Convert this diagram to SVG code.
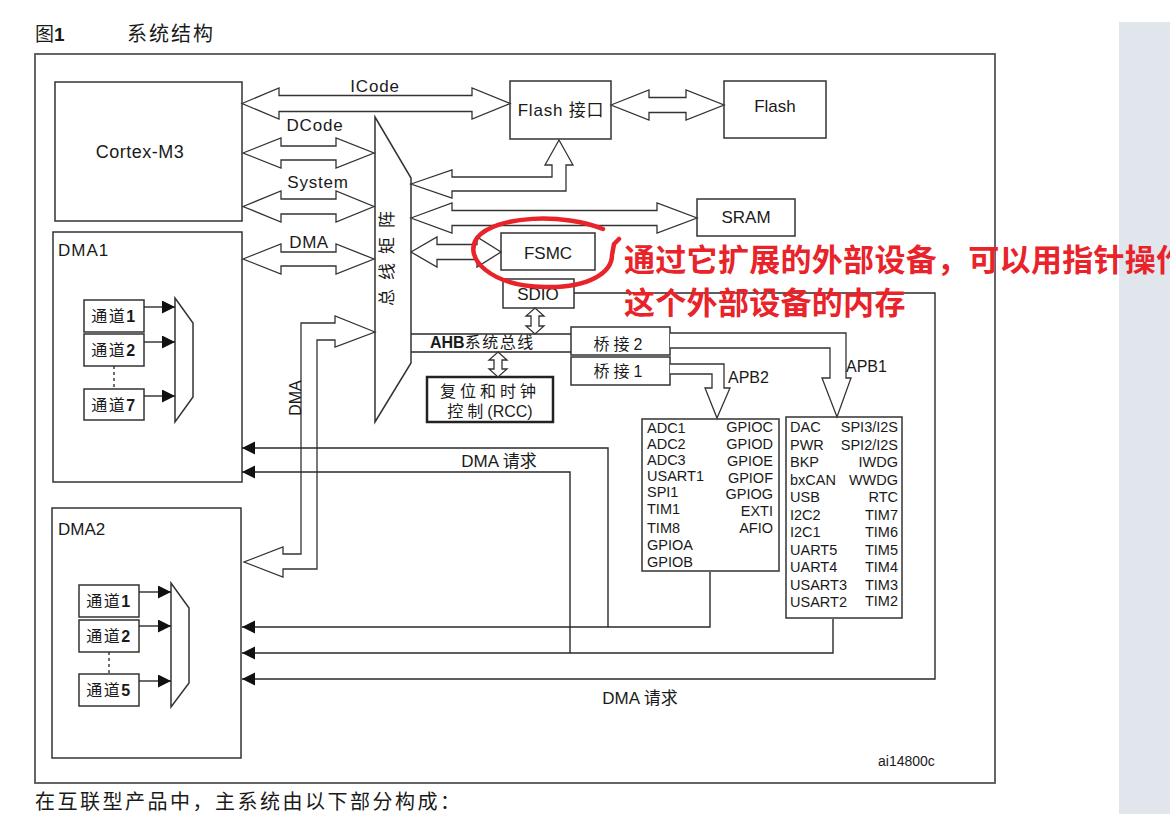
<svg xmlns="http://www.w3.org/2000/svg" width="1170" height="830" viewBox="0 0 1170 830">
<style>
.t{font-family:"Liberation Sans","Noto Sans CJK SC",sans-serif;fill:#1a1a1a}
.box{fill:#fff;stroke:#333;stroke-width:1.5}
.ln{fill:none;stroke:#2a2a2a;stroke-width:1.4}
.ha{fill:#fff;stroke:#333;stroke-width:1.3;stroke-linejoin:miter}
.s17{font-size:17px}
.s16{font-size:16px}
.s14{font-size:14.5px}
.red{font-family:"Noto Sans CJK SC",sans-serif;font-weight:700;font-size:31px;fill:#e8232a;letter-spacing:0.3px}
</style>
<defs>
<marker id="ah" markerUnits="userSpaceOnUse" markerWidth="14" markerHeight="14" refX="13" refY="6.5" orient="auto">
<path d="M0,0 L13,6.5 L0,13 Z" fill="#111"/>
</marker>
</defs>
<rect x="0" y="0" width="1170" height="830" fill="#fff"/>
<rect x="1119" y="22" width="51" height="792" fill="#e1e5ec"/>

<g id="title">
<text class="t" x="35" y="41" font-size="19">图<tspan font-weight="bold">1</tspan></text>
<text class="t" x="127" y="41" font-size="20" letter-spacing="2">系统结构</text>
</g>
<rect id="frame" x="35" y="54" width="960" height="729" fill="none" stroke="#555" stroke-width="1.8"/>

<g id="cortex">
<rect class="box" x="55" y="82" width="187" height="139"/>
<text class="t" x="140" y="158" font-size="18" text-anchor="middle" letter-spacing="0.5">Cortex-M3</text>
</g>

<g id="dma1">
<rect class="box" x="53" y="232" width="189" height="250"/>
<text class="t s17" x="58" y="256" letter-spacing="1">DMA1</text>
<rect class="box" x="84" y="300" width="60" height="32"/>
<text class="t s16" x="114" y="322" text-anchor="middle" letter-spacing="1.5">通道<tspan font-weight="bold">1</tspan></text>
<rect class="box" x="84" y="334" width="60" height="32"/>
<text class="t s16" x="114" y="356" text-anchor="middle" letter-spacing="1.5">通道<tspan font-weight="bold">2</tspan></text>
<rect class="box" x="84" y="389" width="60" height="31"/>
<text class="t s16" x="114" y="411" text-anchor="middle" letter-spacing="1.5">通道<tspan font-weight="bold">7</tspan></text>
<polygon class="box" points="175,298 193,323 193,397 175,422"/>
</g>

<g id="dma2">
<rect class="box" x="52" y="508" width="189" height="250"/>
<text class="t s17" x="58" y="535">DMA2</text>
<rect class="box" x="79" y="585" width="60" height="32"/>
<text class="t s16" x="109" y="607" text-anchor="middle" letter-spacing="1.5">通道<tspan font-weight="bold">1</tspan></text>
<rect class="box" x="79" y="620" width="60" height="32"/>
<text class="t s16" x="109" y="642" text-anchor="middle" letter-spacing="1.5">通道<tspan font-weight="bold">2</tspan></text>
<rect class="box" x="79" y="674" width="60" height="32"/>
<text class="t s16" x="109" y="696" text-anchor="middle" letter-spacing="1.5">通道<tspan font-weight="bold">5</tspan></text>
<polygon class="box" points="171,583 189,608 189,683 171,707"/>
</g>

<g id="busmatrix">
<polygon class="box" points="375,117 411,178 411,363 375,422"/>
<text class="t" font-size="17" transform="translate(393,254) rotate(-90)" text-anchor="middle" letter-spacing="9">总线矩阵</text>
</g>

<g id="flashif">
<rect class="box" x="510" y="81" width="101" height="58"/>
<text class="t s17" x="561" y="116" text-anchor="middle" letter-spacing="0.8">Flash 接口</text>
</g>
<g id="flash">
<rect class="box" x="724" y="81" width="102" height="57"/>
<text class="t s17" x="775" y="112" text-anchor="middle">Flash</text>
</g>
<g id="sram">
<rect class="box" x="697" y="199" width="98" height="37"/>
<text class="t s17" x="746" y="223" text-anchor="middle">SRAM</text>
</g>
<g id="fsmc">
<rect class="box" x="501" y="233" width="94" height="37"/>
<text class="t s17" x="548" y="259" text-anchor="middle">FSMC</text>
</g>
<g id="sdio">
<rect class="box" x="503" y="279" width="71" height="29"/>
<text class="t s17" x="538" y="300" text-anchor="middle">SDIO</text>
</g>
<g id="rcc">
<rect x="427" y="377" width="126" height="45" fill="#fff" stroke="#222" stroke-width="2.5"/>
<text class="t s16" x="490" y="397" text-anchor="middle" letter-spacing="4">复位和时钟</text>
<text class="t s16" x="490" y="417" text-anchor="middle"><tspan letter-spacing="4">控制</tspan>(RCC)</text>
</g>
<g id="bridge2">
<rect class="box" x="571" y="327" width="99" height="28"/>
<text class="t s16" x="620" y="350" text-anchor="middle" letter-spacing="4">桥接2</text>
</g>
<g id="bridge1">
<rect class="box" x="571" y="357" width="99" height="28"/>
<text class="t s16" x="620" y="377" text-anchor="middle" letter-spacing="4">桥接1</text>
</g>

<g id="apb2">
<rect class="box" x="642" y="419" width="137" height="152"/>
<g class="t s14">
<text x="647" y="433">ADC1</text><text x="647" y="449">ADC2</text><text x="647" y="465">ADC3</text>
<text x="647" y="481">USART1</text><text x="647" y="497">SPI1</text><text x="647" y="514">TIM1</text>
<text x="647" y="533">TIM8</text><text x="647" y="550">GPIOA</text><text x="647" y="567">GPIOB</text>
</g>
<g class="t s14" text-anchor="end">
<text x="773" y="432">GPIOC</text><text x="773" y="449">GPIOD</text><text x="773" y="466">GPIOE</text>
<text x="773" y="483">GPIOF</text><text x="773" y="499">GPIOG</text><text x="773" y="516">EXTI</text>
<text x="773" y="533">AFIO</text>
</g>
</g>

<g id="apb1">
<rect class="box" x="786" y="417" width="116" height="201"/>
<g class="t s14">
<text x="790" y="432">DAC</text><text x="790" y="449.5">PWR</text><text x="790" y="467">BKP</text>
<text x="790" y="484.5">bxCAN</text><text x="790" y="502">USB</text><text x="790" y="519.5">I2C2</text>
<text x="790" y="537">I2C1</text><text x="790" y="554.5">UART5</text><text x="790" y="572">UART4</text>
<text x="790" y="589.5">USART3</text><text x="790" y="607">USART2</text>
</g>
<g class="t s14" text-anchor="end">
<text x="898" y="432">SPI3/I2S</text><text x="898" y="449.5">SPI2/I2S</text><text x="898" y="467">IWDG</text>
<text x="898" y="484.5">WWDG</text><text x="898" y="502">RTC</text><text x="898" y="519.5">TIM7</text>
<text x="898" y="537">TIM6</text><text x="898" y="554.5">TIM5</text><text x="898" y="572">TIM4</text>
<text x="898" y="589.5">TIM3</text><text x="898" y="606">TIM2</text>
</g>
</g>

<g id="connectors">
<!-- hollow bus arrows -->
<path class="ha" d="M242,103.5 L279,88 L279,95.5 L472,95.5 L472,88 L510,103.5 L472,119 L472,111.5 L279,111.5 L279,119 Z"/>
<path class="ha" d="M243,153 L281,138 L281,146 L336,146 L336,138 L374,153 L336,168 L336,160 L281,160 L281,168 Z"/>
<path class="ha" d="M243,206.5 L281,191 L281,199 L336,199 L336,191 L374,206.5 L336,222 L336,214 L281,214 L281,222 Z"/>
<path class="ha" d="M243,259 L281,244 L281,252 L336,252 L336,244 L374,259 L336,274 L336,266 L281,266 L281,274 Z"/>
<path class="ha" d="M611,105 L649,90 L649,97.5 L686,97.5 L686,90 L724,105 L686,120 L686,112.5 L649,112.5 L649,120 Z"/>
<path class="ha" d="M411,184 L452,170 L452,177 L552,177 L552,165 L545,165 L559,140 L573,165 L566,165 L566,191 L452,191 L452,198 Z"/>
<path class="ha" d="M411,218 L452,203 L452,210.5 L657,210.5 L657,203 L697,218 L657,233 L657,225.5 L452,225.5 L452,233 Z"/>
<path class="ha" d="M411,252 L437,237 L437,244.5 L477,244.5 L477,237 L501,252 L477,267 L477,259.5 L437,259.5 L437,267 Z"/>
<path class="ha" d="M375,332 L335,316 L335,323 L301,323 L301,554 L283,554 L283,547 L244,562 L283,577 L283,569 L317,569 L317,340 L335,340 L335,347 Z"/>
<!-- AHB bus -->
<path class="ln" d="M411,334 H571 M411,352 H571"/>
<path class="ha" d="M535,308 L544,316 L539,316 L539,326 L544,326 L535,334 L526,326 L531,326 L531,316 L526,316 Z"/>
<path class="ha" d="M498,352 L507,360 L502,360 L502,369 L507,369 L498,377 L489,369 L494,369 L494,360 L489,360 Z"/>
<!-- APB arrows -->
<path class="ha" d="M670,364 L724,364 L724,388 L730,388 L717,418 L705,388 L712,388 L712,374 L670,374"/>
<path class="ha" d="M670,333 L846,333 L846,378 L851,378 L837,417 L822,378 L830,378 L830,348 L670,348"/>
<!-- DMA request lines -->
<path class="ln" d="M710,572 V627 H242" marker-end="url(#ah)"/>
<path class="ln" d="M608,627 V448 H242" marker-end="url(#ah)"/>
<path class="ln" d="M833,619 V653 H242" marker-end="url(#ah)"/>
<path class="ln" d="M570,653 V472 H242" marker-end="url(#ah)"/>
<path class="ln" d="M574,293 H935 V679 H242" marker-end="url(#ah)"/>
<!-- channel arrows -->
<path class="ln" d="M144,307 H175" marker-end="url(#ah)"/>
<path class="ln" d="M144,342 H175" marker-end="url(#ah)"/>
<path class="ln" d="M144,396 H175" marker-end="url(#ah)"/>
<path class="ln" d="M139,592 H171" marker-end="url(#ah)"/>
<path class="ln" d="M139,626 H171" marker-end="url(#ah)"/>
<path class="ln" d="M139,681 H171" marker-end="url(#ah)"/>
<path d="M114,366 V389 M109,652 V674" stroke="#333" stroke-width="1.4" stroke-dasharray="3,3"/>
<!-- labels -->
<text class="t s17" x="375" y="92" text-anchor="middle" letter-spacing="0.8">ICode</text>
<text class="t s17" x="315" y="131" text-anchor="middle" letter-spacing="0.8">DCode</text>
<text class="t s17" x="318" y="188" text-anchor="middle" letter-spacing="0.8">System</text>
<text class="t s17" x="309" y="248" text-anchor="middle" letter-spacing="0.5">DMA</text>
<text class="t s16" transform="translate(301,398) rotate(-90)" text-anchor="middle">DMA</text>
<text class="t s16" x="430" y="348" letter-spacing="1.5"><tspan font-weight="bold" letter-spacing="0">AHB</tspan>系统总线</text>
<text class="t s16" x="728" y="383">APB2</text>
<text class="t s16" x="846" y="372">APB1</text>
<text class="t s17" x="499" y="467" text-anchor="middle">DMA 请求</text>
<text class="t s17" x="640" y="704" text-anchor="middle">DMA 请求</text>
</g>

<text class="t" x="878" y="766" font-size="14">ai14800c</text>
<text class="t" x="35" y="809" font-size="20" letter-spacing="2.5">在互联型产品中，主系统由以下部分构成：</text>

<g id="annotation">
<path d="M603,229 C565,213 495,215 477,238 C463,258 490,286 545,287 C590,288 612,272 612,255 L614,244 L619,239" fill="none" stroke="#e8232a" stroke-width="4.5" stroke-linecap="round" stroke-linejoin="round"/>
<text class="red" x="624" y="271">通过它扩展的外部设备，可以用指针操作</text>
<text class="red" x="624" y="314">这个外部设备的内存</text>
</g>
</svg>
